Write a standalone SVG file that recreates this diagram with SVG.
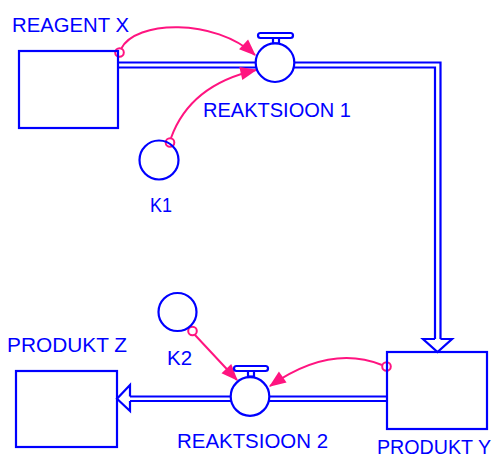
<svg xmlns="http://www.w3.org/2000/svg" width="495" height="459" viewBox="0 0 495 459">
<style>
.b{fill:none;stroke:#0000ff;stroke-width:2.2}
.bw{fill:#fff;stroke:#0000ff;stroke-width:2.2}
.p{fill:none;stroke:#ff1480;stroke-width:2}
.s{fill:none;stroke:#ff1480;stroke-width:2}
text{font-family:"Liberation Sans",Arial,sans-serif;font-size:19.5px;fill:#0000ff}
</style>
<defs>
<marker id="ah" markerUnits="userSpaceOnUse" markerWidth="20" markerHeight="20" refX="0" refY="0" viewBox="-16 -8 18 16" orient="auto" overflow="visible">
<path d="M1,0 L-14,-6 L-14,6 Z" fill="#ff1480"/>
</marker>
</defs>
<g id="connectors">
<path class="b" d="M118,62.5 H256 M118,67.5 H256"/>
<path class="b" d="M294,62.5 H440.5 V339 M294,67.5 H435 V339"/>
<polyline class="b" points="435,339 423,339 437.5,352 452,339 440.5,339"/>
<path class="b" d="M387,396.5 H269 M387,401 H269"/>
<path class="b" d="M231,396.5 H130 M231,401 H130"/>
<polyline class="b" points="130,396.5 130,385 117,398.7 130,411 130,401"/>
<path class="p" d="M121,49 C135,20 215,18 255,55" marker-end="url(#ah)"/>
<path class="p" d="M171,138 Q190,85 256,70" marker-end="url(#ah)"/>
<path class="p" d="M195,335 L237,380" marker-end="url(#ah)"/>
<path class="p" d="M382,365 Q330,344 270,386" marker-end="url(#ah)"/>
<circle class="s" cx="119.5" cy="52.5" r="4.3"/>
<circle class="s" cx="170" cy="142.5" r="4.3"/>
<circle class="s" cx="192.5" cy="331" r="4.3"/>
<circle class="s" cx="386.5" cy="366.5" r="4.3"/>
</g>
<g id="reagent-x">
<rect class="b" x="19" y="51" width="99" height="77"/>
<text x="12" y="32" textLength="117" lengthAdjust="spacingAndGlyphs">REAGENT X</text>
</g>
<g id="reaktsioon-1">
<rect class="b" x="273" y="37.5" width="6" height="6"/>
<rect class="bw" x="258" y="33" width="35" height="5" rx="2.5"/>
<circle class="bw" cx="275" cy="62.7" r="19.3"/>
<text x="203" y="117" textLength="148" lengthAdjust="spacingAndGlyphs">REAKTSIOON 1</text>
</g>
<g id="k1">
<circle class="b" cx="159" cy="160" r="19.5"/>
<text x="150" y="212" textLength="22" lengthAdjust="spacingAndGlyphs">K1</text>
</g>
<g id="produkt-y">
<rect class="b" x="387" y="352" width="100" height="77"/>
<text x="377" y="454" textLength="114" lengthAdjust="spacingAndGlyphs">PRODUKT Y</text>
</g>
<g id="k2">
<circle class="b" cx="177.5" cy="312" r="19"/>
<text x="167" y="365" textLength="25" lengthAdjust="spacingAndGlyphs">K2</text>
</g>
<g id="reaktsioon-2">
<rect class="b" x="248" y="370.5" width="6" height="6"/>
<rect class="bw" x="234" y="366" width="34" height="5" rx="2.5"/>
<circle class="bw" cx="250" cy="396.5" r="19.3"/>
<text x="177" y="448" textLength="151" lengthAdjust="spacingAndGlyphs">REAKTSIOON 2</text>
</g>
<g id="produkt-z">
<rect class="b" x="16" y="371" width="101" height="76"/>
<text x="7" y="352" textLength="120" lengthAdjust="spacingAndGlyphs">PRODUKT Z</text>
</g>
</svg>
